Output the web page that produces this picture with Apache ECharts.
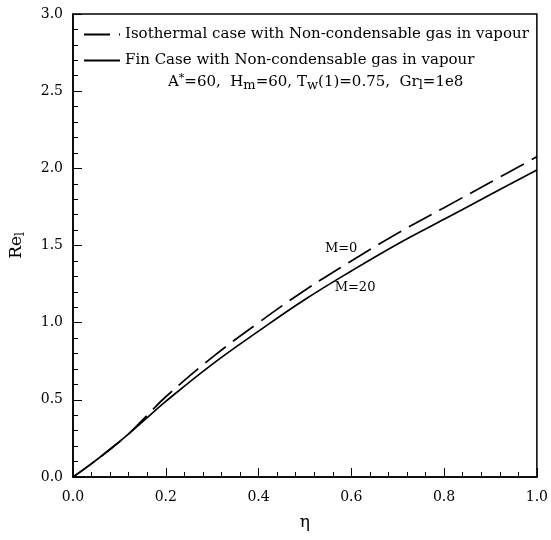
<!DOCTYPE html>
<html><head><meta charset="utf-8">
<script src="https://cdn.jsdelivr.net/npm/echarts@6/dist/echarts.min.js"></script>
<style>html,body{margin:0;padding:0;background:#fff}#c{width:551px;height:540px}</style>
</head><body><div id="c"></div>
<script>
var eta   = [0, 0.04, 0.08, 0.12, 0.16, 0.2, 0.3, 0.4, 0.5, 0.6, 0.7, 0.8, 0.9, 1.0];
var reIso = [0, 0.087, 0.18, 0.28, 0.40, 0.52, 0.775, 1.0, 1.21, 1.40, 1.58, 1.745, 1.91, 2.075];
var reFin = [0, 0.087, 0.18, 0.28, 0.385, 0.49, 0.73, 0.945, 1.15, 1.335, 1.51, 1.67, 1.83, 1.99];
var seriesNames = ['Isothermal case with Non-condensable gas in vapour', 'Fin Case with Non-condensable gas in vapour'];
var curveLabels = [{text: 'M=0', at: [0.578, 1.48]}, {text: 'M=20', at: [0.608, 1.23]}];

var FONT = 'DejaVu Serif';
function pairs(x, y){ return x.map(function(v,i){return [v, y[i]];}); }
function mark(l){ return {symbol:'circle', symbolSize:0, silent:true, animation:false,
  label:{show:true, position:'inside', formatter:l.text, color:'#000', fontFamily:FONT, fontSize:13},
  data:[{coord:l.at}]}; }

var chart = echarts.init(document.getElementById('c'), null, {renderer:'canvas'});
chart.setOption({
  animation:false,
  backgroundColor:'#fff',
  grid:{left:73, right:11, top:14, bottom:63, show:true, borderColor:'#000', borderWidth:1.5, backgroundColor:'transparent'},
  legend:{orient:'vertical', left:78, top:22, itemWidth:36, itemHeight:14, itemGap:11,
    itemStyle:{opacity:0},
    textStyle:{fontFamily:FONT, fontSize:15, color:'#000'}, selectedMode:false,
    data:[{name:seriesNames[0]},{name:seriesNames[1]}]},
  graphic:[{type:'text', left:168, top:73, style:{
    text:'A{sup|*}=60,  H{sub|m}=60, T{sub|w}(1)=0.75,  Gr{sub|l}=1e8',
    font:'15px "DejaVu Serif"', fill:'#000',
    rich:{sup:{fontSize:11, fontFamily:FONT, verticalAlign:'top', padding:[0,0,8,0]}, sub:{fontSize:13, fontFamily:FONT, padding:[6,0,0,0]}}
  }}],
  xAxis:{type:'value', min:0, max:1, interval:0.2, name:'η', nameLocation:'middle', nameGap:37,
    nameTextStyle:{fontFamily:FONT, fontSize:17, color:'#000'},
    axisLine:{lineStyle:{color:'#000', width:1.5}},
    axisTick:{inside:true, length:9, lineStyle:{color:'#000'}},
    minorTick:{show:true, splitNumber:5, length:5, lineStyle:{color:'#000'}},
    splitLine:{show:false},
    axisLabel:{fontFamily:FONT, fontSize:14, color:'#000', margin:13, formatter:function(v){return v.toFixed(1);}}},
  yAxis:{type:'value', min:0, max:3, interval:0.5, name:'Re{s|l}', nameLocation:'middle', nameGap:46, nameRotate:90,
    nameTextStyle:{fontFamily:FONT, fontSize:17, color:'#000', rich:{s:{fontFamily:FONT, fontSize:12, padding:[8,0,0,0]}}},
    axisLine:{lineStyle:{color:'#000', width:1.5}},
    axisTick:{inside:true, length:9, lineStyle:{color:'#000'}},
    minorTick:{show:true, splitNumber:5, length:5, lineStyle:{color:'#000'}},
    splitLine:{show:false},
    axisLabel:{fontFamily:FONT, fontSize:14, color:'#000', margin:10, formatter:function(v){return v.toFixed(1);}}},
  series:[
    {name:seriesNames[0], type:'line', data:pairs(eta, reIso), symbol:'none', smooth:0.4,
     lineStyle:{color:'#000', width:1.7, type:[26,9]}, itemStyle:{color:'#000'}, markPoint:mark(curveLabels[0])},
    {name:seriesNames[1], type:'line', data:pairs(eta, reFin), symbol:'none', smooth:0.4,
     lineStyle:{color:'#000', width:1.7, type:'solid'}, itemStyle:{color:'#000'}, markPoint:mark(curveLabels[1])}
  ]
});
</script></body></html>
